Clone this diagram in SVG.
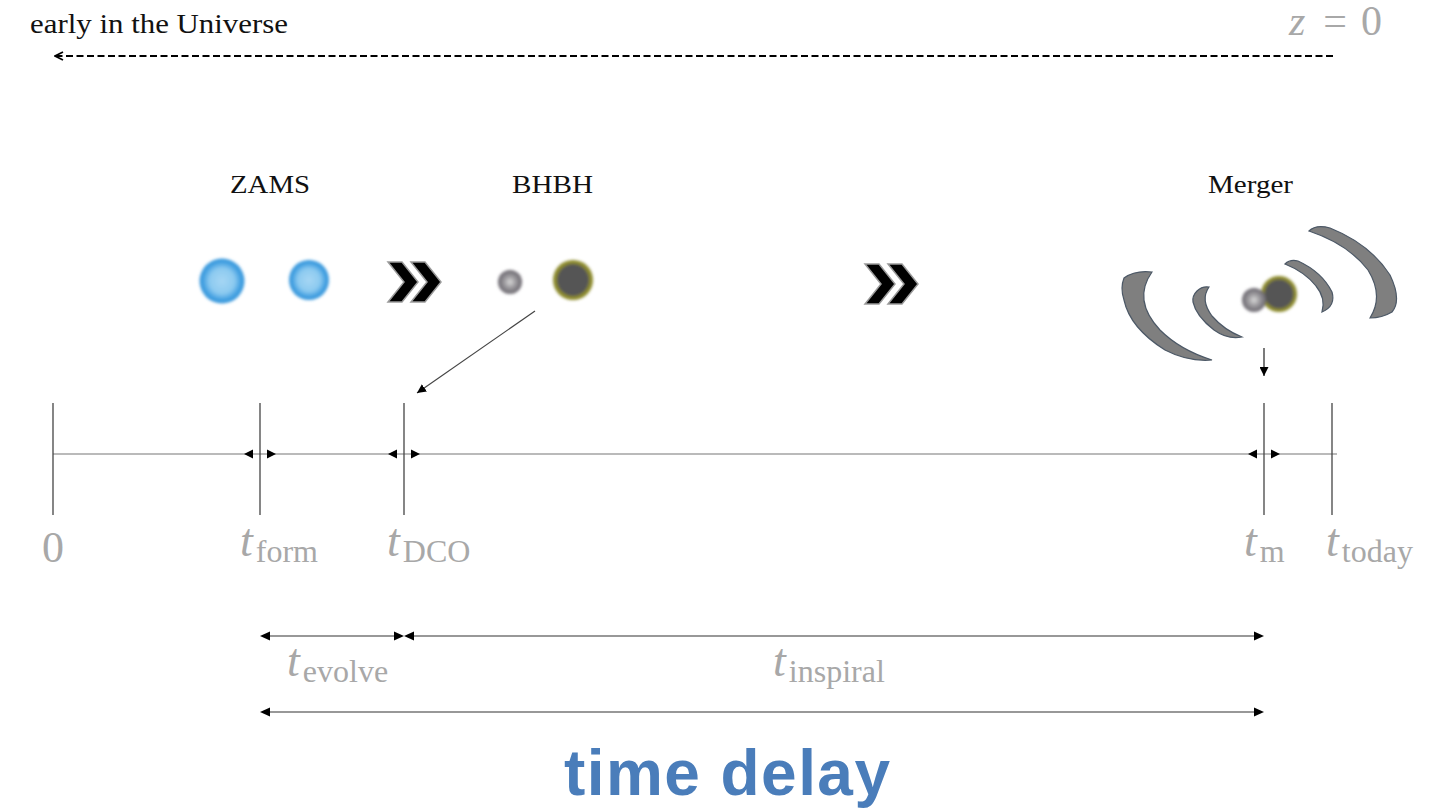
<svg xmlns="http://www.w3.org/2000/svg" width="1449" height="810" viewBox="0 0 1449 810">
  <style>
    .serif { font-family: "Liberation Serif", "DejaVu Serif", serif; }
    .lbl { font-family: "Liberation Serif", "DejaVu Serif", serif; font-size: 26px; fill: #111; }
    .math { font-family: "Liberation Serif", "DejaVu Serif", serif; fill: #a8a8a8; }
    .tv { font-style: italic; font-size: 46px; }
    .sub { font-size: 32px; }
    .tick { stroke: #444; stroke-width: 1.3; }
    .axis { stroke: #777; stroke-width: 1.2; fill: none; }
    .dim { stroke: #333; stroke-width: 1.2; fill: none; }
    .head { fill: #000; }
    .wave { fill: #7f7f7f; stroke: #4c5866; stroke-width: 1.2; }
    .chev { fill: #000; stroke: #9a9a9a; stroke-width: 1.5; stroke-linejoin: miter; }
  </style>
  <defs>
    <radialGradient id="star" cx="50%" cy="50%" r="50%">
      <stop offset="0" stop-color="#a6d6f4"/>
      <stop offset="0.55" stop-color="#8ccaf0"/>
      <stop offset="0.85" stop-color="#3f9ee0"/>
      <stop offset="1" stop-color="#3a98dc"/>
    </radialGradient>
    <radialGradient id="bhSmall" cx="50%" cy="50%" r="50%">
      <stop offset="0" stop-color="#d8d8d8"/>
      <stop offset="0.5" stop-color="#9a989c"/>
      <stop offset="1" stop-color="#6a666e"/>
    </radialGradient>
    <filter id="soft" x="-30%" y="-30%" width="160%" height="160%">
      <feGaussianBlur stdDeviation="1.4"/>
    </filter>
    <marker id="openHead" viewBox="0 0 10 10" refX="9" refY="5" markerWidth="10" markerHeight="10" orient="auto" markerUnits="userSpaceOnUse">
      <path d="M1,1 L9,5 L1,9" fill="none" stroke="#000" stroke-width="1.8"/>
    </marker>
    <marker id="tri" viewBox="0 0 10 10" refX="10" refY="5" markerWidth="9" markerHeight="9" orient="auto" markerUnits="userSpaceOnUse">
      <path d="M0,0 L10,5 L0,10 Z" fill="#000"/>
    </marker>
    <g id="chevrons">
      <polygon class="chev" points="388,262 402,262 418,282 402,302 388,302 404,282"/>
      <polygon class="chev" points="411,262 425,262 441,282 425,302 411,302 427,282"/>
    </g>
  </defs>

  <rect width="1449" height="810" fill="#fff"/>

  <!-- cosmic time direction -->
  <g id="header">
    <text class="serif" x="30" y="33" font-size="27" fill="#111" textLength="258" lengthAdjust="spacingAndGlyphs">early in the Universe</text>
    <text class="math" x="1289" y="35" font-size="42"><tspan font-style="italic">z</tspan><tspan dx="18">=</tspan><tspan dx="14">0</tspan></text>
  </g>

  <!-- stage labels -->
  <g id="label-zams"><text class="lbl" x="230" y="193" textLength="80" lengthAdjust="spacingAndGlyphs">ZAMS</text></g>
  <g id="label-bhbh"><text class="lbl" x="512" y="193" textLength="81" lengthAdjust="spacingAndGlyphs">BHBH</text></g>
  <g id="label-merger"><text class="lbl" x="1208" y="193" textLength="85" lengthAdjust="spacingAndGlyphs">Merger</text></g>

  <!-- zero-age main sequence binary -->
  <g id="zams-stars" filter="url(#soft)">
    <circle cx="222" cy="281" r="22.5" fill="url(#star)"/>
    <circle cx="309" cy="280" r="20" fill="url(#star)"/>
  </g>

  <use id="chevron-1" href="#chevrons"/>
  <use id="chevron-2" href="#chevrons" transform="translate(477,2)"/>

  <!-- double compact object -->
  <g id="bhbh" filter="url(#soft)">
    <circle cx="510" cy="282" r="12" fill="url(#bhSmall)"/>
    <circle cx="573" cy="280" r="20" fill="#8c8a2c"/>
    <circle cx="573" cy="280" r="16" fill="#555"/>
  </g>

  <!-- merging pair with wave fronts -->
  <g id="merger">
    <path class="wave" d="M1124,278 Q1135,270 1152,272 Q1132,300 1160,330 Q1180,350 1212,360 Q1188,362 1165,350 Q1130,328 1124,300 Q1120,288 1124,278 Z"/>
    <path class="wave" d="M1197,291 Q1202,286 1209,287 Q1200,300 1212,316 Q1224,330 1242,337 Q1228,340 1214,330 Q1196,316 1193,302 Q1192,296 1197,291 Z"/>
    <path class="wave" d="M1285,264 Q1290,259 1298,261 Q1322,272 1332,292 Q1336,306 1322,312 Q1326,298 1316,286 Q1305,272 1285,264 Z"/>
    <path class="wave" d="M1309,231 Q1316,224 1330,228 Q1370,244 1390,275 Q1402,300 1392,312 Q1382,318 1370,318 Q1384,296 1368,270 Q1348,244 1309,231 Z"/>
    <g filter="url(#soft)">
      <circle cx="1279" cy="294" r="18" fill="#8c8a2c"/>
      <circle cx="1279" cy="294" r="14.5" fill="#555"/>
      <circle cx="1254" cy="300" r="12" fill="url(#bhSmall)"/>
    </g>
  </g>

  <!-- timeline axis and ticks -->
  <g id="timeline">
    <line class="axis" x1="53" y1="454" x2="1337" y2="454"/>
    <line class="tick" x1="53" y1="403" x2="53" y2="515"/>
    <line class="tick" x1="260" y1="403" x2="260" y2="515"/>
    <line class="tick" x1="404" y1="403" x2="404" y2="515"/>
    <line class="tick" x1="1264" y1="403" x2="1264" y2="515"/>
    <line class="tick" x1="1332" y1="403" x2="1332" y2="515"/>
    <g class="head">
      <polygon points="244,454 253,449.5 253,458.5"/>
      <polygon points="276,454 267,449.5 267,458.5"/>
      <polygon points="388,454 397,449.5 397,458.5"/>
      <polygon points="420,454 411,449.5 411,458.5"/>
      <polygon points="1248,454 1257,449.5 1257,458.5"/>
      <polygon points="1280,454 1271,449.5 1271,458.5"/>
    </g>
  </g>

  <!-- tick labels -->
  <g id="tick-labels" class="math">
    <text x="53" y="562" font-size="44" text-anchor="middle">0</text>
    <text x="240" y="556"><tspan class="tv">t</tspan><tspan class="sub" dx="3" dy="6">form</tspan></text>
    <text x="387" y="556"><tspan class="tv">t</tspan><tspan class="sub" dx="3" dy="6">DCO</tspan></text>
    <text x="1244" y="556"><tspan class="tv">t</tspan><tspan class="sub" dx="3" dy="6">m</tspan></text>
    <text x="1326" y="556"><tspan class="tv">t</tspan><tspan class="sub" dx="3" dy="6">today</tspan></text>
  </g>

  <!-- connectors -->
  <g id="connectors">
    <line x1="1333" y1="56" x2="55" y2="56" style="stroke:#000;stroke-width:2;stroke-dasharray:7,3.5;fill:none" marker-end="url(#openHead)"/>
    <line x1="535" y1="311" x2="417" y2="393" style="stroke:#444;stroke-width:1.2" marker-end="url(#tri)"/>
    <line x1="1264" y1="348" x2="1264" y2="376" style="stroke:#222;stroke-width:1.2" marker-end="url(#tri)"/>
    <!-- evolve interval -->
    <line class="dim" x1="268" y1="636" x2="396" y2="636"/>
    <polygon class="head" points="260,636 270,631.5 270,640.5"/>
    <polygon class="head" points="404,636 394,631.5 394,640.5"/>
    <!-- inspiral interval -->
    <line class="dim" x1="412" y1="636" x2="1256" y2="636"/>
    <polygon class="head" points="404,636 414,631.5 414,640.5"/>
    <polygon class="head" points="1264,636 1254,631.5 1254,640.5"/>
    <!-- total delay -->
    <line class="dim" x1="268" y1="712" x2="1256" y2="712"/>
    <polygon class="head" points="260,712 270,707.5 270,716.5"/>
    <polygon class="head" points="1264,712 1254,707.5 1254,716.5"/>
  </g>

  <!-- interval labels -->
  <g id="interval-labels" class="math">
    <text x="287" y="676"><tspan class="tv">t</tspan><tspan class="sub" dx="3" dy="6">evolve</tspan></text>
    <text x="773" y="676"><tspan class="tv">t</tspan><tspan class="sub" dx="3" dy="6">inspiral</tspan></text>
  </g>

  <g id="title">
    <text x="727" y="795" text-anchor="middle" font-family="'Liberation Sans', Arial, sans-serif" font-weight="bold" font-size="64" fill="#4a7dba" textLength="326">time delay</text>
  </g>
</svg>
